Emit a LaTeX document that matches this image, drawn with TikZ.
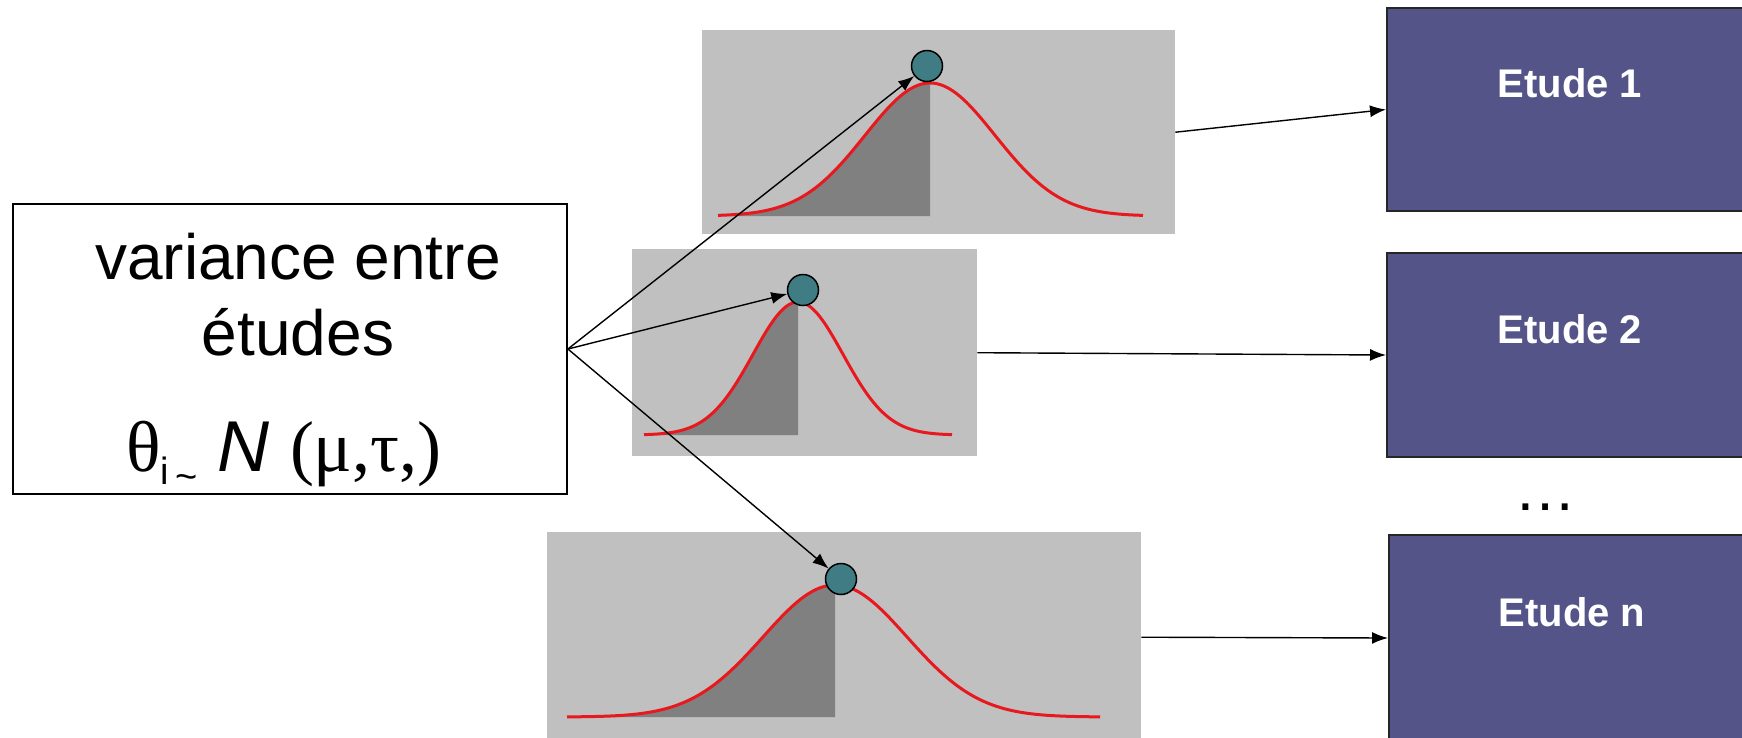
\documentclass[tikz,border=0pt]{standalone}
\usepackage{fontspec}
\setmainfont{Liberation Sans}
\newfontfamily\symfont{Liberation Serif}
\usetikzlibrary{arrows.meta}
\definecolor{panelgray}{HTML}{C0C0C0}
\definecolor{areagray}{HTML}{808080}
\definecolor{curvered}{HTML}{E8191E}
\definecolor{dotteal}{HTML}{407C84}
\definecolor{etudeblue}{HTML}{545489}

\begin{document}
\begin{tikzpicture}[x=1pt,y=-1pt,
  conn/.style={draw=black, line width=1.4pt, -{Latex[length=16pt,width=12pt]}},
  panel/.style={fill=panelgray, draw=none, inner sep=0pt, anchor=north west},
  estimate/.style={circle, fill=dotteal, draw=black, line width=1.5pt, minimum size=31pt, inner sep=0pt},
  etude/.style={fill=etudeblue, draw=black!85, line width=2pt, minimum width=366pt, anchor=north west, inner sep=0pt},
  etudetext/.style={text=white, font=\fontsize{40}{48}\bfseries\selectfont, yshift=26pt},
  gauss/.style={draw=curvered, line width=3pt},
  srcbox/.style={draw=black, line width=1.8pt, minimum width=554pt, minimum height=290pt, inner sep=0pt}
]
\useasboundingbox (0,0) rectangle (1742,737);
\clip (0,0) rectangle (1742,737);

% source box
\node[srcbox] (src) at (290,349) {};
\node[font=\fontsize{64}{76}\selectfont, align=center, anchor=base] (srctext) at (298,355) {variance entre\\études};
\node[anchor=base, inner sep=0pt] (formula) at (284,471)
  {\fontsize{72}{72}\selectfont{\symfont θ}\raisebox{-13pt}{\fontsize{38}{38}\selectfont i\,\raisebox{-5pt}{\textasciitilde}} \textit{N} {\symfont(μ,τ,)}};

% distribution panels
\node[panel, minimum width=473pt, minimum height=204pt] (p1) at (702,30) {};
\node[panel, minimum width=345pt, minimum height=207pt] (p2) at (632,249) {};
\node[panel, minimum width=594pt, minimum height=210pt] (p3) at (547,532) {};

% shaded areas and density curves
\fill[areagray] plot[domain=718:930, samples=80] (\x, {216-133*exp(0-0.5*pow((\x-930)/65,2))}) -- (930,216) -- (718,216) -- cycle;
\draw[gauss] plot[domain=718:1143, samples=150] (\x, {216-133*exp(0-0.5*pow((\x-930)/65,2))});

\fill[areagray] plot[domain=644:798, samples=80] (\x, {435-133*exp(0-0.5*pow((\x-798)/45,2))}) -- (798,435) -- (644,435) -- cycle;
\draw[gauss] plot[domain=644:952, samples=150] (\x, {435-133*exp(0-0.5*pow((\x-798)/45,2))});

\fill[areagray] plot[domain=567:835, samples=80] (\x, {717-132*exp(0-0.5*pow((\x-835)/72,2))}) -- (835,717) -- (567,717) -- cycle;
\draw[gauss] plot[domain=567:1100, samples=150] (\x, {717-132*exp(0-0.5*pow((\x-835)/72,2))});

% sampled study effects
\node[estimate] (c1) at (927,66) {};
\node[estimate] (c2) at (803,290) {};
\node[estimate] (c3) at (841,579) {};

% studies
\node[etude, minimum height=203pt, label={[etudetext]center:Etude 1}] (e1) at (1386,7) {};
\node[etude, minimum height=204pt, label={[etudetext]center:Etude 2}] (e2) at (1386,252) {};
\node[etude, minimum height=206pt, label={[etudetext]center:Etude n}] (e3) at (1388,534) {};
\node[font=\fontsize{62}{62}\selectfont] (dots) at (1545,507) {…};

% connectors
\draw[conn] (src.east) -- (c1);
\draw[conn] (src.east) -- (c2);
\draw[conn] (src.east) -- (c3);
\draw[conn] (p1.east) -- (e1.west);
\draw[conn] (p2.east) -- (e2.west);
\draw[conn] (p3.east) -- (e3.west);
\end{tikzpicture}
\end{document}
